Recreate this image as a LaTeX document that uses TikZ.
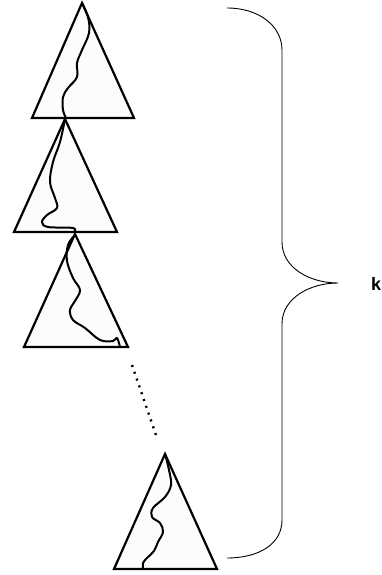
\documentclass[tikz,border=0pt]{standalone}
\usepackage{fontspec}
\setmainfont{Liberation Sans}
\begin{document}
\begin{tikzpicture}[x=1pt,y=-1pt,
  tri/.style={draw=black,fill=gray!2,line width=2.2pt,line join=miter},
  walk/.style={draw=black,line width=2pt,line cap=round,line join=round},
  bracepath/.style={draw=black,line width=0.9pt},
  dotline/.style={draw=black,line width=2.4pt,dash pattern=on 2pt off 5.2pt}]
\useasboundingbox (0,0) rectangle (382,575);

% subtree 1
\coordinate (t1) at (82,3);
\path[tri] (t1) -- (134,118) -- (32,118) -- cycle;
\draw[walk] plot[smooth,tension=0.6] coordinates {(82,3) (88,17) (89,33) (82,50) (77,63) (77,77) (68,88) (63,97) (63,110) (66,118)};

% subtree 2
\coordinate (t2) at (65,119);
\path[tri] (t2) -- (117,232) -- (14,232) -- cycle;
\draw[walk] plot[smooth,tension=0.6] coordinates {(65,119) (60,142) (53,162) (50,182) (55,198) (57,208) (47,215) (42,222) (48,227) (73,228) (74,232)};

% subtree 3
\coordinate (t3) at (75,234);
\path[tri] (t3) -- (128,347) -- (24,347) -- cycle;
\draw[walk] plot[smooth,tension=0.6] coordinates {(75,235) (68,245) (67,261) (73,278) (80,290) (75,301) (70,310) (73,320) (85,328) (100,340) (113,341) (117,338) (120,347)};

% gap between the chain and the last subtree
\coordinate (d1) at (132,365);
\coordinate (d2) at (157,438);
\draw[dotline] (d1) -- (d2);

% subtree k
\coordinate (t4) at (165,454);
\path[tri] (t4) -- (217,569) -- (114,569) -- cycle;
\draw[walk] plot[smooth,tension=0.6] coordinates {(165,454) (169,470) (171,485) (165,497) (153,508) (152,517) (160,523) (163,532) (158,542) (154,551) (147,558) (143,563) (143,569)};

% brace spanning all subtrees
\coordinate (btop) at (227,8);
\coordinate (bbot) at (227,558);
\coordinate (btip) at (338,283);
\draw[bracepath] (btop) .. controls (259,8) and (282,26) .. (282,50)
  -- (282,242) .. controls (282,268) and (310,283) .. (btip)
  .. controls (310,283) and (282,298) .. (282,324)
  -- (282,520) .. controls (282,544) and (259,558) .. (bbot);
\node[font=\fontsize{18}{18}\selectfont\bfseries,inner sep=0pt] (k) at (376,284) {k};
\end{tikzpicture}
\end{document}
